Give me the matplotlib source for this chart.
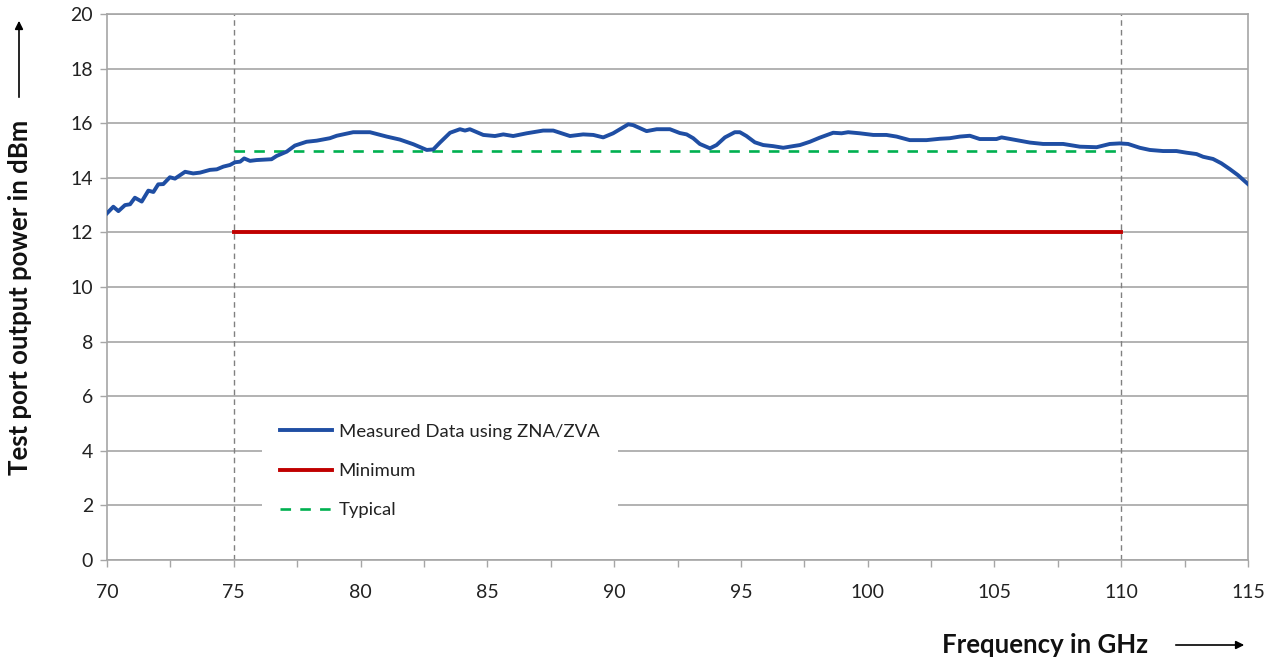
"""
plot.py
Test port output power vs frequency (ZNA/ZVA measurement)
"""

import numpy as np
import matplotlib
matplotlib.use('Agg')
import matplotlib.pyplot as plt
from matplotlib.ticker import MultipleLocator

# measured curve
freq = [70.0, 70.25, 70.45, 70.71, 70.91, 71.1, 71.37, 71.63, 71.83, 72.02,
        72.22, 72.48, 72.68, 73.08, 73.4, 73.67, 74.06, 74.33, 74.59, 74.85,
        75.05, 75.25, 75.41, 75.64, 75.9, 76.49, 76.69, 77.09, 77.41, 77.87,
        78.27, 78.79, 79.06, 79.71, 80.37, 81.03, 81.55, 82.08, 82.61, 82.87,
        83.13, 83.53, 83.92, 84.12, 84.31, 84.84, 85.3, 85.63, 86.02, 86.55,
        87.2, 87.6, 88.26, 88.78, 89.18, 89.57, 89.96, 90.56, 90.75, 91.28,
        91.68, 92.2, 92.59, 92.86, 93.12, 93.38, 93.78, 94.04, 94.37, 94.76,
        94.96, 95.22, 95.55, 95.88, 96.27, 96.67, 97.06, 97.33, 97.72, 98.11,
        98.64, 98.97, 99.23, 99.69, 100.22, 100.74, 101.14, 101.66, 102.32, 102.85,
        103.24, 103.64, 104.03, 104.42, 105.08, 105.28, 105.87, 106.4, 106.92, 107.71,
        108.37, 109.03, 109.55, 109.94, 110.27, 110.73, 111.13, 111.65, 112.18, 112.57,
        112.97, 113.23, 113.62, 113.95, 114.28, 114.6, 115.0]
power = [12.70, 12.94, 12.78, 13.00, 13.03, 13.27, 13.13, 13.53, 13.48, 13.76,
         13.77, 14.02, 13.97, 14.22, 14.16, 14.19, 14.29, 14.31, 14.41, 14.47,
         14.57, 14.59, 14.71, 14.62, 14.65, 14.68, 14.80, 14.96, 15.18, 15.32,
         15.36, 15.45, 15.54, 15.67, 15.67, 15.51, 15.40, 15.23, 15.02, 15.04,
         15.29, 15.65, 15.78, 15.73, 15.78, 15.57, 15.53, 15.59, 15.53, 15.63,
         15.73, 15.73, 15.53, 15.59, 15.57, 15.48, 15.63, 15.96, 15.93, 15.71,
         15.78, 15.78, 15.64, 15.59, 15.45, 15.24, 15.08, 15.20, 15.48, 15.67,
         15.67, 15.53, 15.30, 15.20, 15.16, 15.10, 15.16, 15.20, 15.32, 15.47,
         15.65, 15.63, 15.67, 15.63, 15.57, 15.57, 15.51, 15.38, 15.38, 15.43,
         15.45, 15.51, 15.54, 15.42, 15.42, 15.48, 15.38, 15.29, 15.24, 15.24,
         15.14, 15.12, 15.24, 15.26, 15.24, 15.10, 15.02, 14.98, 14.98, 14.92,
         14.87, 14.77, 14.69, 14.53, 14.32, 14.10, 13.77]

# specification lines
spec_freq = [75, 110]
minimum = [12, 12]
typical = [15, 15]

labels = ['Measured Data using ZNA/ZVA', 'Minimum', 'Typical']

GRID = '#a6a6a6'
FONT = 'Lato'


def main():
  fig = plt.figure(figsize=(12.79, 6.65), dpi=100)
  ax = fig.add_axes([107/1279, 1 - 560/665, 1141/1279, 546/665])

  # band edges
  for f in spec_freq:
    ax.axvline(f, color='#808080', lw=1, ls=(0, (4, 3)), zorder=1)

  l1, = ax.plot(freq, power, color='#1f4ea3', lw=2.8, zorder=4)
  l2, = ax.plot(spec_freq, minimum, color='#c00000', lw=2.8, zorder=3)
  l3, = ax.plot(spec_freq, typical, color='#00b050', lw=1.9,
                ls=(0, (4, 3.5)), zorder=3)

  ax.set_xlim(70, 115)
  ax.set_ylim(0, 20)
  ax.xaxis.set_major_locator(MultipleLocator(5))
  ax.xaxis.set_minor_locator(MultipleLocator(2.5))
  ax.yaxis.set_major_locator(MultipleLocator(2))
  ax.yaxis.grid(True, color=GRID, lw=1.2, zorder=0)
  ax.set_axisbelow(True)

  for s in ax.spines.values():
    s.set_color(GRID)
    s.set_linewidth(1.2)

  ax.tick_params(axis='x', which='both', length=5, color=GRID, width=1,
                 pad=12, labelsize=14, labelcolor='#222222')
  ax.tick_params(axis='y', length=5, color=GRID, width=1, pad=5,
                 labelsize=14, labelcolor='#222222')
  for t in ax.get_xticklabels() + ax.get_yticklabels():
    t.set_fontfamily(FONT)

  leg = ax.legend([l1, l2, l3], labels, loc='center left',
                  bbox_to_anchor=((262 - 107) / 1141, (560 - 471) / 546),
                  borderaxespad=0, frameon=True, fancybox=False,
                  handlelength=2.8, handletextpad=0.35, labelspacing=1.25,
                  borderpad=1.0,
                  prop={'family': FONT, 'size': 13.3})
  leg.get_frame().set_facecolor('white')
  leg.get_frame().set_edgecolor('none')
  leg.get_frame().set_alpha(1)
  for t in leg.get_texts():
    t.set_color('#222222')

  # axis titles with arrows
  fig.text(20/1279, 1 - 297/665, 'Test port output power in dBm',
           rotation=90, ha='center', va='center', fontsize=18.5,
           fontweight='bold', family=FONT, color='#111111')
  fig.text(1045/1279, 1 - 645/665, 'Frequency in GHz', ha='center',
           va='center', fontsize=18.5, fontweight='bold', family=FONT,
           color='#111111')
  fig.add_artist(matplotlib.patches.FancyArrowPatch(
      (19/1279, 1 - 100/665), (19/1279, 1 - 18/665),
      transform=fig.transFigure, arrowstyle='-|>', mutation_scale=12,
      color='black', lw=1.2))
  fig.add_artist(matplotlib.patches.FancyArrowPatch(
      (1173/1279, 1 - 645/665), (1247/1279, 1 - 645/665),
      transform=fig.transFigure, arrowstyle='-|>', mutation_scale=12,
      color='black', lw=1.2))

  fig.savefig('out.png', dpi=100, facecolor='white')


if __name__ == '__main__':
  main()
